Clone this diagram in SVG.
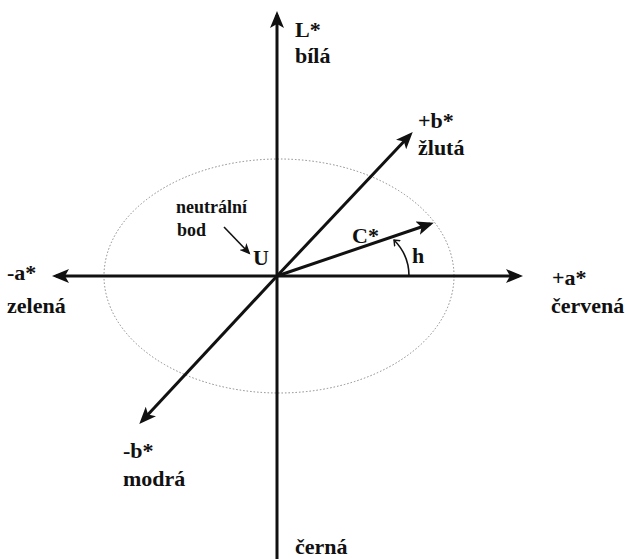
<svg xmlns="http://www.w3.org/2000/svg" width="629" height="559" viewBox="0 0 629 559">
  <style>
    .lbl { font-family: "Liberation Serif", "Times New Roman", serif; font-size: 22px; font-weight: bold; fill: #111; }
    .sm { font-size: 18px; }
    .axis { stroke: #111; stroke-width: 3; fill: none; }
    .thin { stroke: #111; stroke-width: 1.6; fill: none; }
  </style>
  <defs>
    <marker id="ah" markerUnits="userSpaceOnUse" markerWidth="18" markerHeight="14" refX="13" refY="7" orient="auto">
      <path d="M0,0 L17,7 L0,14 L4,7 z" fill="#111"/>
    </marker>
    <marker id="ahs" markerUnits="userSpaceOnUse" markerWidth="12" markerHeight="10" refX="9" refY="5" orient="auto">
      <path d="M0,0 L11,5 L0,10 L3,5 z" fill="#111"/>
    </marker>
    <marker id="aho" markerUnits="userSpaceOnUse" markerWidth="10" markerHeight="10" refX="5" refY="5" orient="auto">
      <path d="M0,1 L5,5 L0,9" fill="none" stroke="#111" stroke-width="1.4"/>
    </marker>
  </defs>
  <rect width="629" height="559" fill="#fff"/>

  <ellipse id="gamut" cx="279" cy="276" rx="175" ry="117" fill="none" stroke="#888" stroke-width="1" stroke-dasharray="1.5 2"/>

  <g id="connectors">
    <line class="axis" x1="277" y1="559" x2="277" y2="15" marker-end="url(#ah)"/>
    <line class="axis" x1="277" y1="276" x2="56" y2="276" marker-end="url(#ah)"/>
    <line class="axis" x1="277" y1="276" x2="519" y2="276" marker-end="url(#ah)"/>
    <line class="axis" x1="277" y1="276" x2="410" y2="135" marker-end="url(#ah)"/>
    <line class="axis" x1="277" y1="276" x2="142" y2="421" marker-end="url(#ah)"/>
    <line class="axis" stroke-width="2.6" x1="277" y1="276" x2="430" y2="224" marker-end="url(#ah)"/>
    <line class="thin" x1="224" y1="227" x2="249" y2="253" marker-end="url(#ahs)"/>
    <path class="thin" d="M409,276 C409,262 403,249 394,240" marker-end="url(#aho)"/>
  </g>

  <g id="node-L"><text class="lbl" x="295" y="37">L*</text><text class="lbl" x="295" y="63">bílá</text></g>
  <g id="node-plus-b"><text class="lbl" x="418" y="128">+b*</text><text class="lbl" x="418" y="155">žlutá</text></g>
  <g id="node-neutral"><text class="lbl sm" x="176" y="213">neutrální</text><text class="lbl sm" x="177" y="236">bod</text></g>
  <g id="node-U"><text class="lbl" x="253" y="265">U</text></g>
  <g id="node-C"><text class="lbl" x="352" y="243">C*</text></g>
  <g id="node-h"><text class="lbl" x="412" y="263">h</text></g>
  <g id="node-minus-a"><text class="lbl" x="7" y="280">-a*</text><text class="lbl" x="7" y="313">zelená</text></g>
  <g id="node-plus-a"><text class="lbl" x="552" y="285">+a*</text><text class="lbl" x="551" y="313">červená</text></g>
  <g id="node-minus-b"><text class="lbl" x="123" y="458">-b*</text><text class="lbl" x="123" y="486">modrá</text></g>
  <g id="node-cerna"><text class="lbl" x="295" y="554">černá</text></g>
</svg>
